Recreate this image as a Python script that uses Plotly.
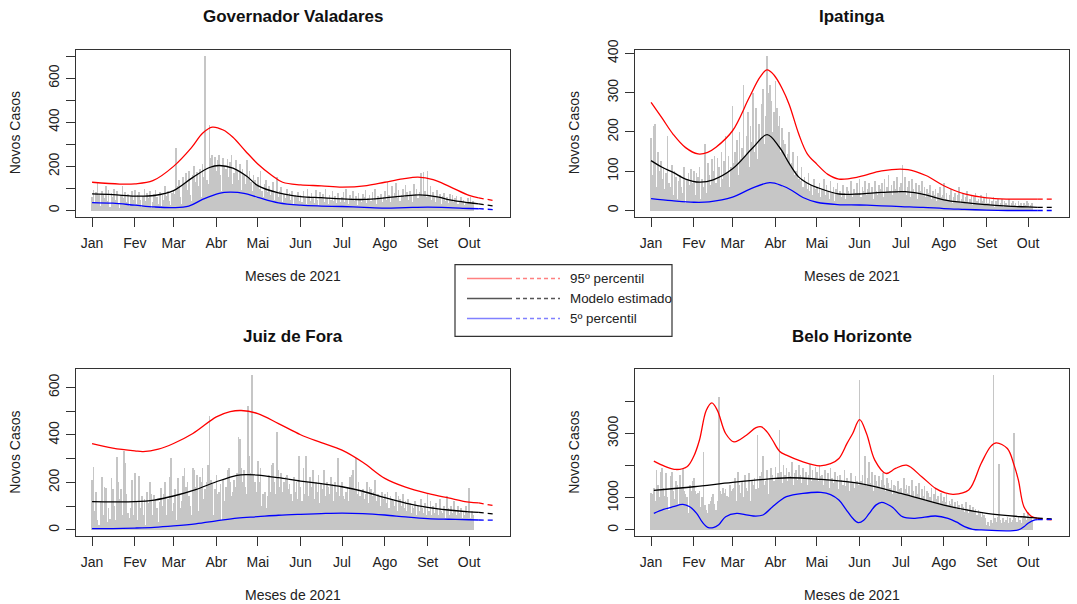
import plotly.graph_objects as go

W, H = 1077, 604

def px(x):
    return x / W

# vertical calibration (maps reference pixel rows to paper coordinates)
Y_OFF, Y_SCALE = 10.0, 0.9834

def yc(y):
    return (y - Y_OFF) / Y_SCALE

def py(y):
    return 1 - yc(y) / H

FONT = "Liberation Sans, Arial, Helvetica, sans-serif"
MONTH_TICKS = [0, 31, 59, 90, 120, 151, 181, 212, 243, 273]
MONTH_LABELS = ["Jan", "Fev", "Mar", "Abr", "Mai", "Jun", "Jul", "Ago", "Set", "Out"]
SOLID_END = 280

# ---------------- daily new cases ----------------
gv_cases = [
    60, 95, 40, 85, 130, 70, 20, 90, 75, 55, 110, 45, 95, 15, 80, 60, 100, 50, 90, 35, 10,
    70, 110, 55, 85, 40, 75, 20, 65, 90, 50,
    95, 30, 70, 85, 50, 15, 65, 100, 45, 80, 55, 90, 10, 40, 75, 95, 60, 30, 85, 20, 70,
    50, 110, 65, 90, 45, 25, 80,
    95, 75, 285, 110, 140, 60, 30, 150, 120, 170, 95, 180, 70, 45, 160, 200, 130, 175, 110, 190, 60,
    210, 150, 700, 140, 120, 390, 240, 250, 200, 245,
    180, 230, 250, 160, 90, 240, 200, 190, 235, 150, 220, 250, 120, 170, 230, 180, 140, 210, 95, 190, 160,
    120, 230, 150, 180, 130, 90, 160, 140, 110,
    150, 100, 180, 90, 60, 120, 140, 85, 110, 70, 95, 130, 50, 80, 150, 60, 90, 105, 40, 75, 55,
    100, 65, 80, 50, 90, 30, 70, 60, 85, 45,
    70, 40, 90, 55, 30, 100, 65, 45, 80, 60, 35, 95, 50, 25, 85, 60, 75, 40, 100, 55, 30,
    70, 50, 90, 45, 65, 35, 80, 55, 40,
    60, 85, 40, 100, 50, 30, 70, 55, 90, 45, 65, 25, 80, 50, 40, 75, 60, 95, 35, 55, 70,
    45, 85, 50, 100, 30, 65, 55, 75, 40, 60,
    90, 50, 130, 70, 40, 110, 60, 80, 125, 55, 95, 45, 70, 100, 60, 115, 85, 50, 90, 65, 40,
    120, 75, 100, 55, 85, 170, 65, 175, 90, 60,
    180, 70, 110, 50, 85, 60, 40, 95, 55, 75, 30, 65, 80, 45, 60, 35, 75, 50, 70, 40, 55,
    65, 30, 45, 60, 40, 50, 25, 35, 55,
    40, 60, 30, 45,
]

ip_cases = [
    185, 90, 215, 220, 60, 150, 100, 125, 80, 110, 55, 95, 190, 70, 60, 115, 40, 100, 85, 30, 75,
    90, 60, 45, 110, 20, 80, 95, 65, 105, 70,
    100, 40, 95, 85, 110, 30, 80, 60, 170, 45, 120, 90, 65, 130, 100, 140, 70, 135, 110, 60, 150,
    80, 125, 190, 95, 140, 60, 110,
    265, 120, 150, 180, 90, 200, 130, 160, 320, 140, 190, 250, 110, 215, 175, 300, 150, 260, 130, 220, 180,
    270, 310, 170, 240, 393, 300, 320, 280, 200, 250,
    330, 260, 215, 240, 150, 210, 180, 170, 130, 145, 200, 110, 120, 150, 90, 100, 140, 80, 75, 110, 60,
    85, 70, 55, 95, 50, 65, 40, 80, 55,
    60, 45, 70, 35, 55, 80, 40, 65, 50, 30, 75, 45, 60, 25, 55, 70, 40, 50, 35, 65, 45,
    30, 60, 50, 40, 75, 35, 55, 45, 70, 40,
    80, 35, 60, 50, 75, 40, 55, 70, 45, 60, 30, 75, 50, 40, 65, 55, 70, 35, 80, 45, 60,
    90, 50, 65, 40, 75, 55, 85, 45, 60,
    70, 115, 50, 85, 40, 60, 75, 35, 80, 55, 45, 70, 30, 65, 50, 75, 40, 60, 35, 55, 45,
    65, 30, 50, 40, 55, 25, 45, 60, 35, 40,
    70, 30, 45, 25, 40, 55, 20, 35, 45, 25, 40, 60, 20, 30, 45, 25, 35, 50, 20, 30, 40,
    15, 35, 45, 25, 30, 20, 40, 25, 35, 20,
    45, 20, 30, 15, 25, 35, 10, 25, 30, 15, 20, 30, 10, 25, 20, 15, 30, 10, 20, 25, 15,
    20, 10, 25, 15, 20, 10, 20, 15, 25,
    20, 10, 15, 20,
]

jf_cases = [
    210, 265, 80, 160, 40, 20, 120, 220, 60, 180, 175, 30, 90, 45, 215, 170, 100, 40, 305, 200, 130,
    170, 60, 330, 280, 150, 70, 50, 90, 210, 60,
    240, 120, 40, 225, 90, 140, 60, 130, 20, 160, 110, 200, 150, 60, 145, 130, 90, 30, 115, 175, 100,
    150, 200, 60, 130, 220, 300, 80,
    110, 170, 40, 215, 150, 90, 120, 225, 260, 180, 200, 140, 100, 60, 260, 250, 180, 230, 80, 220, 200,
    260, 130, 170, 200, 270, 480, 210, 190, 60, 170,
    230, 150, 160, 190, 40, 210, 120, 180, 250, 260, 200, 140, 160, 210, 180, 240, 390, 380, 260, 200, 250,
    180, 150, 520, 310, 240, 650, 230, 200, 160,
    290, 200, 260, 100, 150, 160, 90, 140, 230, 160, 270, 280, 200, 150, 410, 250, 180, 240, 160, 200, 220,
    230, 170, 190, 150, 120, 220, 160, 200, 130, 310,
    180, 120, 260, 150, 310, 200, 140, 220, 180, 250, 130, 200, 160, 230, 110, 190, 170, 250, 140, 200, 180,
    150, 220, 190, 120, 200, 160, 300, 140, 180,
    200, 140, 130, 160, 180, 120, 220, 230, 250, 170, 300, 150, 200, 140, 160, 170, 130, 150, 200, 110, 180,
    170, 140, 160, 210, 120, 150, 140, 100, 160, 130,
    150, 110, 160, 90, 140, 130, 120, 100, 160, 80, 140, 130, 100, 150, 90, 120, 80, 130, 110, 70, 100,
    90, 120, 60, 100, 80, 130, 90, 70, 110, 60,
    150, 80, 120, 60, 100, 70, 110, 90, 60, 130, 80, 70, 100, 50, 140, 90, 60, 100, 70, 120, 80,
    60, 100, 70, 90, 50, 80, 60, 100, 70,
    175, 50, 80, 60,
]

bh_cases = [
    1150, 1100, 1300, 900, 1850, 1400, 1000, 1800, 1900, 1300, 1050, 1750, 1000, 600, 1650, 1800, 1200,
    950, 1500, 1400, 800, 1700, 1300, 1900, 1200, 1100, 1000, 500, 1400, 1200, 1500,
    1600, 1200, 1100, 1150, 1200, 700, 1000, 2400, 750, 600, 500, 800, 900, 1000, 1100, 800, 600,
    900, 4130, 1200, 1100, 1300, 1150, 1250, 1050, 1000, 1400, 1200,
    1250, 1300, 1600, 900, 1800, 1400, 1150, 1500, 1000, 1700, 1300, 1200, 1750, 900, 1500, 1400, 1600,
    1250, 2950, 1300, 1650, 1800, 2300, 1400, 1500, 1850, 1100, 1600, 1900, 1700, 1500,
    1950, 1600, 1750, 3100, 1800, 1450, 2000, 1700, 1900, 1500, 1800, 1650, 2100, 1400, 1750, 1850, 1550,
    2000, 1700, 1450, 1900, 1600, 1800, 1400, 1700, 2050, 1500, 1850, 1600, 1950,
    1800, 1500, 2000, 1650, 1700, 1400, 1850, 1550, 1750, 1300, 1900, 1600, 1450, 1800, 1500, 1650, 1250,
    1700, 1550, 1400, 1850, 1350, 1600, 1500, 1200, 1750, 1450, 1300, 1650, 1500, 1400,
    4650, 1500, 1700, 1400, 2300, 1350, 1600, 2100, 1450, 1800, 1200, 1700, 1500, 1350, 1650, 1300, 1550,
    1750, 1400, 1200, 1600, 1450, 1300, 1550, 1100, 1400, 1350, 1200, 1500, 1250,
    1300, 1100, 1600, 1250, 1400, 1150, 1350, 1050, 1550, 1200, 1000, 1350, 1100, 1450, 950, 1250, 1050,
    1350, 900, 1200, 1150, 1000, 1300, 850, 1100, 1250, 950, 1050, 800, 1150, 900,
    1000, 850, 1100, 750, 900, 800, 950, 700, 850, 650, 900, 750, 600, 800, 700, 550, 850, 650, 500,
    750, 600, 700, 550, 650, 450, 600, 500, 400, 550, 450, 350,
    150, 250, 100, 300, 200, 4800, 350, 250, 400, 2050, 300, 200, 350, 250, 300, 400, 200, 350, 250,
    300, 3000, 350, 250, 400, 300, 200, 350, 500, 400, 300,
    550, 350, 400, 300,
]

# ---------------- fitted curves: [day, value] control points ----------------
gv_p95 = [[0, 128], [20, 120], [31, 121], [44, 135], [59, 200], [72, 285], [80, 350], [87, 378],
          [95, 365], [102, 332], [111, 270], [120, 211], [130, 160], [138, 128], [151, 116], [166, 112],
          [181, 106], [199, 113], [212, 128], [225, 143], [236, 151], [247, 140], [259, 108], [273, 68],
          [280, 57], [291, 45]]
gv_model = [[0, 75], [15, 72], [31, 65], [45, 68], [59, 90], [73, 150], [85, 195], [92, 204], [102, 192],
            [112, 155], [120, 113], [135, 80], [151, 63], [166, 58], [181, 53], [197, 50], [212, 57],
            [225, 65], [237, 71], [250, 62], [259, 48], [273, 35], [280, 30], [291, 20]]
gv_p5 = [[0, 36], [15, 33], [31, 24], [45, 16], [59, 13], [70, 20], [80, 50], [92, 78], [100, 83],
         [110, 78], [120, 60], [135, 35], [151, 24], [166, 20], [181, 18], [197, 14], [212, 11], [227, 13],
         [243, 15], [258, 13], [273, 9], [280, 8], [291, 4]]

ip_p95 = [[0, 275], [8, 235], [16, 194], [25, 160], [34, 144], [41, 148], [47, 161], [59, 203], [71, 287],
          [79, 340], [84, 358], [89, 345], [95, 310], [100, 270], [107, 194], [113, 145], [120, 118],
          [128, 92], [136, 80], [151, 86], [167, 101], [186, 104], [199, 89], [212, 63], [227, 42],
          [243, 32], [258, 29], [273, 29], [280, 29], [291, 29]]
ip_model = [[0, 127], [8, 110], [16, 97], [25, 80], [35, 72], [45, 78], [59, 106], [74, 161], [84, 193],
            [93, 161], [100, 120], [107, 85], [114, 68], [120, 59], [136, 42], [151, 42], [167, 46],
            [184, 48], [199, 40], [212, 27], [227, 20], [243, 15], [258, 11], [273, 9], [280, 8], [291, 8]]
ip_p5 = [[0, 30], [15, 25], [31, 21], [42, 22], [59, 34], [72, 55], [86, 71], [95, 63], [102, 51],
         [110, 33], [120, 21], [135, 15], [151, 14], [167, 12], [181, 10], [197, 8], [212, 5], [227, 3],
         [243, 1], [258, 0], [273, 0], [280, 0], [291, 0]]

jf_p95 = [[0, 364], [15, 345], [31, 333], [37, 330], [48, 340], [59, 364], [73, 406], [90, 476],
          [100, 498], [108, 503], [120, 490], [135, 448], [151, 401], [166, 368], [181, 336], [196, 285],
          [212, 217], [227, 180], [243, 154], [258, 135], [273, 117], [280, 114], [291, 102]]
jf_model = [[0, 119], [15, 118], [31, 119], [45, 126], [59, 143], [75, 170], [90, 203], [105, 230],
            [112, 233], [120, 231], [135, 220], [151, 206], [166, 195], [181, 182], [196, 163], [212, 136],
            [227, 113], [243, 95], [258, 84], [273, 76], [280, 74], [291, 67]]
jf_p5 = [[0, 6], [15, 6], [31, 8], [45, 11], [59, 17], [75, 26], [90, 38], [105, 50], [120, 56], [135, 62],
         [151, 66], [166, 69], [181, 71], [196, 69], [212, 63], [227, 55], [243, 48], [258, 45], [273, 43],
         [280, 42], [291, 41]]

bh_p95 = [[2, 2140], [10, 1980], [18, 1881], [26, 1964], [31, 2300], [35, 2790], [40, 3720], [44, 3950],
          [48, 3720], [54, 3000], [60, 2740], [69, 2946], [76, 3180], [80, 3204], [84, 3050], [88, 2790],
          [93, 2450], [98, 2326], [110, 2119], [122, 1995], [130, 2060], [136, 2222], [142, 2700],
          [146, 3000], [151, 3431], [156, 3000], [162, 2171], [170, 1757], [177, 1912], [185, 2016],
          [196, 1654], [206, 1292], [213, 1150], [219, 1106], [230, 1240], [239, 2067], [246, 2600],
          [250, 2708], [258, 2532], [263, 2000], [266, 1550], [270, 723], [275, 434], [280, 362], [291, 310]]
bh_model = [[2, 1230], [31, 1344], [59, 1478], [90, 1602], [100, 1623], [120, 1581], [151, 1447],
            [181, 1137], [212, 775], [243, 517], [273, 393], [280, 370], [291, 341]]
bh_p5 = [[2, 517], [9, 640], [16, 723], [23, 796], [28, 720], [33, 517], [37, 250], [41, 83], [45, 70],
         [49, 160], [54, 413], [62, 517], [68, 480], [74, 434], [81, 465], [88, 723], [94, 930], [98, 1034],
         [110, 1137], [123, 1168], [130, 1100], [136, 930], [141, 650], [146, 362], [150, 227], [154, 300],
         [158, 517], [163, 780], [167, 858], [171, 800], [175, 700], [182, 413], [191, 362], [206, 434],
         [215, 362], [221, 250], [227, 103], [233, 20], [239, 0], [266, 0], [270, 100], [273, 207],
         [278, 310], [280, 320], [291, 330]]

# ---------------- panels ----------------
BOX_X = [(76, 510), (635, 1069)]
BOX_Y = [(49, 216), (369, 536)]
panels = [
    dict(title="Governador Valadares", cases=gv_cases, p95=gv_p95, model=gv_model, p5=gv_p5,
         yr=[-28, 728], ticks=[0, 100, 200, 300, 400, 500, 600, 700],
         labels=["0", "", "200", "", "400", "", "600", ""], col=0, row=0),
    dict(title="Ipatinga", cases=ip_cases, p95=ip_p95, model=ip_model, p5=ip_p5,
         yr=[-15.7, 408.7], ticks=[0, 100, 200, 300, 400],
         labels=["0", "100", "200", "300", "400"], col=1, row=0),
    dict(title="Juiz de Fora", cases=jf_cases, p95=jf_p95, model=jf_model, p5=jf_p5,
         yr=[-26, 676], ticks=[0, 100, 200, 300, 400, 500, 600],
         labels=["0", "", "200", "", "400", "", "600"], col=0, row=1),
    dict(title="Belo Horizonte", cases=bh_cases, p95=bh_p95, model=bh_model, p5=bh_p5,
         yr=[-192, 4992], ticks=[0, 1000, 2000, 3000, 4000],
         labels=["0", "1000", "", "3000", ""], col=1, row=1),
]

LINE_COLORS = {"p95": "#ff0000", "model": "#000000", "p5": "#0000ff"}

fig = go.Figure()
layout = {}
annotations = []

for i, p in enumerate(panels):
    n = "" if i == 0 else str(i + 1)
    xa, ya = "x" + n, "y" + n
    x0, x1 = BOX_X[p["col"]]
    y0, y1 = BOX_Y[p["row"]]

    fig.add_trace(go.Bar(
        x=list(range(len(p["cases"]))), y=p["cases"], xaxis=xa, yaxis=ya,
        marker=dict(color="#c6c6c6", line=dict(width=0)), width=0.48,
        showlegend=False, hoverinfo="x+y"))

    for key in ["p95", "model", "p5"]:
        pts = p[key]
        solid = [q for q in pts if q[0] <= SOLID_END]
        dashed = [q for q in pts if q[0] >= SOLID_END]
        fig.add_trace(go.Scatter(
            x=[q[0] for q in solid], y=[q[1] for q in solid], xaxis=xa, yaxis=ya,
            mode="lines", line=dict(color=LINE_COLORS[key], width=1.3, shape="spline", smoothing=1.0),
            showlegend=False))
        fig.add_trace(go.Scatter(
            x=[q[0] for q in dashed], y=[q[1] for q in dashed], xaxis=xa, yaxis=ya,
            mode="lines", line=dict(color=LINE_COLORS[key], width=1.3, dash="5px,4px"),
            showlegend=False))

    layout["xaxis" + n] = dict(
        domain=[px(x0), px(x1)], range=[-11.64, 302.64], anchor=ya,
        tickvals=MONTH_TICKS, ticktext=MONTH_LABELS, ticks="outside", ticklen=9,
        tickcolor="#333", tickwidth=1.2, showline=True, linecolor="#333", linewidth=1.4,
        mirror=True, showgrid=False, zeroline=False, ticklabelstandoff=4,
        tickfont=dict(family=FONT, size=14, color="#222"))
    layout["yaxis" + n] = dict(
        domain=[py(y1), py(y0)], range=p["yr"], anchor=xa,
        tickvals=p["ticks"], ticktext=p["labels"], ticks="outside", ticklen=9, tickangle=-90,
        tickcolor="#333", tickwidth=1.2, showline=True, linecolor="#333", linewidth=1.4,
        mirror=True, showgrid=False, zeroline=False, ticklabelstandoff=1,
        tickfont=dict(family=FONT, size=14, color="#222"))

    cx = (x0 + x1) / 2
    annotations.append(dict(x=px(cx), y=py(y0 - 33), xref="paper", yref="paper", text="<b>" + p["title"] + "</b>",
                            showarrow=False, font=dict(family=FONT, size=17, color="#111"),
                            xanchor="center", yanchor="middle"))
    annotations.append(dict(x=px(cx), y=py(y1 + 59), xref="paper", yref="paper", text="Meses de 2021",
                            showarrow=False, font=dict(family=FONT, size=14, color="#222"),
                            xanchor="center", yanchor="middle"))
    annotations.append(dict(x=px(x0 - 61), y=py((y0 + y1) / 2), xref="paper", yref="paper", text="Novos Casos",
                            showarrow=False, textangle=-90, font=dict(family=FONT, size=14, color="#222"),
                            xanchor="center", yanchor="middle"))

# ---------------- legend (drawn manually, like R's legend box) ----------------
legend_items = [("95º percentil", "#ff8080"), ("Modelo estimado", "#555555"), ("5º percentil", "#8080ff")]
shapes = [dict(type="rect", xref="paper", yref="paper", x0=px(455), x1=px(672), y0=py(336), y1=py(264),
               line=dict(color="#333", width=1.2), fillcolor="white", layer="above")]
for k, (label, color) in enumerate(legend_items):
    yy = 278 + 20 * k
    shapes.append(dict(type="line", xref="paper", yref="paper", x0=px(467), x1=px(512), y0=py(yy), y1=py(yy),
                       line=dict(color=color, width=1.5), layer="above"))
    shapes.append(dict(type="line", xref="paper", yref="paper", x0=px(516), x1=px(560), y0=py(yy), y1=py(yy),
                       line=dict(color=color, width=1.5, dash="4px,3px"), layer="above"))
    annotations.append(dict(x=px(568), y=py(yy), xref="paper", yref="paper", text=label, showarrow=False,
                            xanchor="left", yanchor="middle", font=dict(family=FONT, size=13.4, color="#222")))

fig.update_layout(
    width=W, height=H, margin=dict(l=0, r=0, t=0, b=0),
    paper_bgcolor="white", plot_bgcolor="white", bargap=0,
    annotations=annotations, shapes=shapes, showlegend=False, **layout)

fig.write_html(
    "out.html",
    config={"displayModeBar": False},
    post_script=(
        "document.body.style.margin='0px';document.body.style.overflow='hidden';"
        "var gd=document.getElementById('{plot_id}');"
        "gd.style.position='fixed';gd.style.top='0px';gd.style.left='0px';"
    ),
)
